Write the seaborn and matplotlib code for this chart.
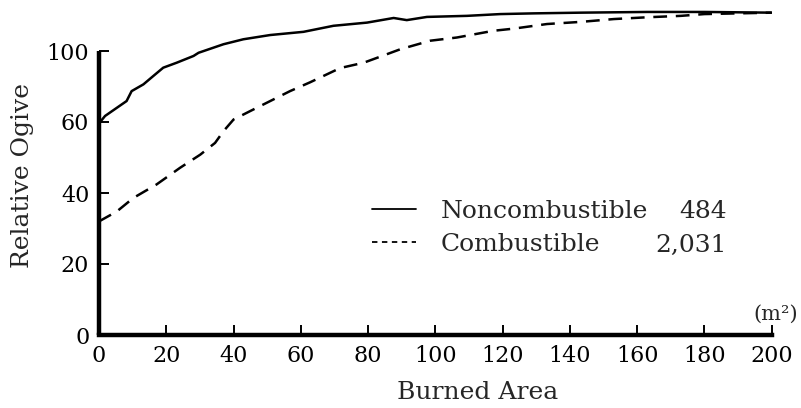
import matplotlib
matplotlib.use("Agg")
import matplotlib.pyplot as plt
from matplotlib.lines import Line2D
import seaborn as sns

# ---- data ----
nc_x = [0, 1.8, 8.2, 9.7, 13.2, 16.2, 19.1, 23.1, 28.1, 29.6, 37, 42.9, 50.9,
        60.8, 69.7, 79.7, 87.6, 91.5, 97.5, 109.4, 119.3, 129.2, 143.2, 163, 180, 200]
nc_y = [59.6, 61.7, 65.9, 68.7, 70.6, 73, 75.3, 76.7, 78.6, 79.5, 81.9, 83.3, 84.5,
        85.4, 87.1, 88.0, 89.3, 88.7, 89.6, 89.9, 90.4, 90.6, 90.8, 91.0, 91.0, 90.8]

cb_x = [0, 5.3, 10.2, 17.1, 24.1, 30.1, 34.5, 37, 40, 45, 50.9, 56.8, 62.8, 71.7,
        78.7, 85.6, 89.6, 98.5, 106.4, 117.3, 123.3, 133.2, 143.2, 153.1, 163, 173,
        180, 200]
cb_y = [32, 34.8, 38.6, 42.4, 47.1, 50.8, 54.1, 57.4, 60.7, 63.1, 65.9, 68.7, 71.2,
        75.2, 76.7, 79.1, 80.5, 82.9, 83.8, 85.7, 86.3, 87.6, 88.2, 89, 89.5, 89.9,
        90.4, 90.8]

series_names = ["Noncombustible", "Combustible"]
series_counts = ["484", "2,031"]

x_ticks = [0, 20, 40, 60, 80, 100, 120, 140, 160, 180, 200]
y_ticks = [0, 20, 40, 60, 80]
y_tick_labels = ["0", "20", "40", "60", "100"]

# ---- style ----
sns.set_style("ticks")
plt.rcParams["font.family"] = ["DejaVu Serif"]
FS_TICK = 16
FS_TEXT = 18

W, H = 801, 408
fig = plt.figure(figsize=(W / 100, H / 100), dpi=100)
x0, x1 = 99, 771.7
y0 = 335
ymax = 92
ppu = 71 / 20.0
ax = fig.add_axes([x0 / W, (H - y0) / H, (x1 - x0) / W, ymax * ppu / H])

sns.lineplot(x=nc_x, y=nc_y, color="black", lw=1.8, ax=ax, sort=False)
sns.lineplot(x=cb_x, y=cb_y, color="black", lw=1.8, ax=ax, sort=False,
             linestyle=(0, (5.5, 3.5)))

ax.set_xlim(0, 200)
ax.set_ylim(0, ymax)
ax.set_xticks(x_ticks)
ax.set_xticklabels([str(v) for v in x_ticks])
ax.set_yticks(y_ticks)
ax.set_yticklabels(y_tick_labels)

for s in ["top", "right"]:
    ax.spines[s].set_visible(False)
for s in ["left", "bottom"]:
    ax.spines[s].set_linewidth(3.2)
    ax.spines[s].set_color("black")
ax.spines["left"].set_bounds(0, 80)
ax.spines["left"].set_capstyle("butt")

ax.tick_params(axis="both", direction="in", length=7, width=1.4, colors="black",
               labelsize=FS_TICK, pad=7)

ax.set_xlabel("Burned Area", fontsize=FS_TEXT)
ax.xaxis.set_label_coords((478 - x0) / (x1 - x0), -(381 - y0) / (ymax * ppu))
ax.set_ylabel("Relative Ogive", fontsize=FS_TEXT)
ax.yaxis.set_label_coords((34 - x0) / (x1 - x0), (y0 - 175) / (ymax * ppu))

# unit label
fig.text(776 / W, 1 - 314 / H, "(m²)", fontsize=15, ha="center", va="center")

# legend
handles = [
    Line2D([], [], color="black", lw=1.3),
    Line2D([], [], color="black", lw=1.3, linestyle=(0, (3, 2.5))),
]
leg = ax.legend(handles, series_names, loc="center left",
                bbox_to_anchor=(372 / W, 1 - 228 / H), bbox_transform=fig.transFigure,
                frameon=False, fontsize=FS_TEXT, handlelength=1.75, handletextpad=1.0,
                labelspacing=0.4, borderpad=0, borderaxespad=0)

row_y = [211, 245]
for cnt, ry in zip(series_counts, row_y):
    fig.text(727 / W, 1 - ry / H, cnt, fontsize=FS_TEXT, ha="right", va="center")

fig.savefig("out.png", dpi=100)
